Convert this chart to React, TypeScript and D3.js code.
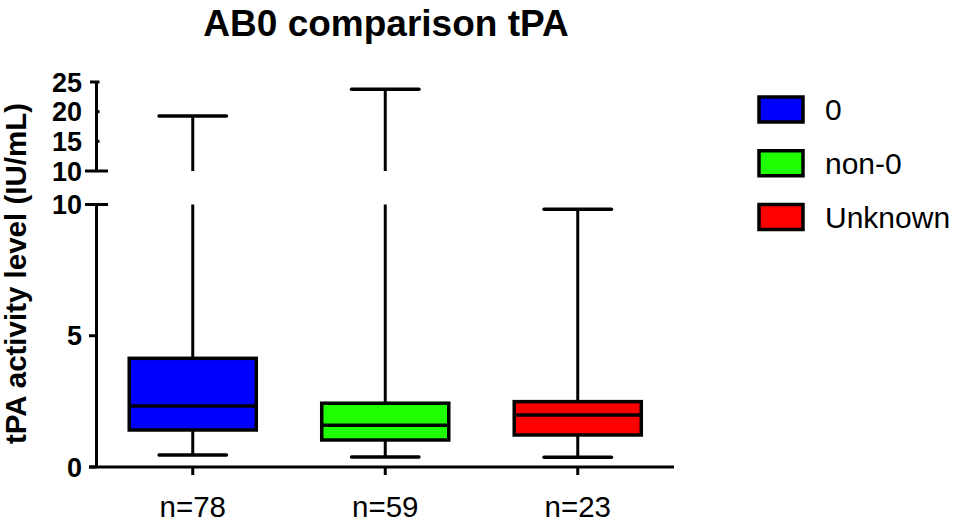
import { useEffect, useRef } from "react";
import * as d3 from "d3";

// groups and summary stats
const groups = ["0", "non-0", "Unknown"];
const counts = [78, 59, 23];
const mins = [0.46, 0.38, 0.37];
const q1s = [1.41, 1.03, 1.22];
const medians = [2.32, 1.59, 1.98];
const q3s = [4.14, 2.43, 2.49];
const maxs = [19.27, 23.78, 9.82];
const colors = ["#0000ff", "#1eff00", "#ff0000"];

const lowerTicks = [0, 5, 10];
const upperTicks = [10, 15, 20, 25];
const breakValue = 10;

const FONT = "'Liberation Sans', Arial, Helvetica, sans-serif";

export default function App() {
  const svgRef = useRef<SVGSVGElement>(null);

  useEffect(() => {
    if (!svgRef.current) return;
    const width = 954;
    const height = 525;
    const axisX = 96.5;
    const axisEnd = 674;
    const baseY = 467;

    const svg = d3.select(svgRef.current);
    svg.selectAll("*").remove();

    const x = d3.scalePoint<string>().domain(groups).range([axisX, axisEnd]).padding(0.5);
    const step = x.step();
    const boxW = step * 0.66;
    const capW = step * 0.35;

    // broken y axis: two segments
    const yLow = d3.scaleLinear().domain([0, 10]).range([baseY, 204.5]);
    const yHigh = d3.scaleLinear().domain([10, 25]).range([171, 82]);

    // title
    svg
      .append("text")
      .attr("x", 386)
      .attr("y", 36)
      .attr("text-anchor", "middle")
      .attr("font-family", FONT)
      .attr("font-weight", "bold")
      .attr("font-size", 37)
      .text("AB0 comparison tPA");

    // y label
    svg
      .append("text")
      .attr("transform", `translate(26,${(82 + baseY) / 2 - 1}) rotate(-90)`)
      .attr("text-anchor", "middle")
      .attr("font-family", FONT)
      .attr("font-weight", "bold")
      .attr("font-size", 29.5)
      .text("tPA activity level (IU/mL)");

    const axis = svg.append("g").attr("stroke", "#000").attr("stroke-width", 3);

    // lower segment
    axis.append("line").attr("x1", axisX).attr("x2", axisX).attr("y1", yLow(0)).attr("y2", yLow(10));
    // upper segment
    axis.append("line").attr("x1", axisX).attr("x2", axisX).attr("y1", yHigh(10)).attr("y2", yHigh(25));

    // x axis
    axis.append("line").attr("x1", 89).attr("x2", axisEnd).attr("y1", baseY).attr("y2", baseY);
    groups.forEach((g) => {
      axis
        .append("line")
        .attr("x1", x(g)!)
        .attr("x2", x(g)!)
        .attr("y1", baseY)
        .attr("y2", baseY + 8);
    });

    // ticks
    lowerTicks.forEach((t) => {
      const isBreak = t === breakValue;
      axis
        .append("line")
        .attr("x1", isBreak ? 85 : 89)
        .attr("x2", isBreak ? 108 : axisX)
        .attr("y1", yLow(t))
        .attr("y2", yLow(t));
    });
    upperTicks.forEach((t) => {
      const isBreak = t === breakValue;
      const isEnd = t === 25;
      axis
        .append("line")
        .attr("x1", isBreak ? 85 : isEnd ? 90 : 95)
        .attr("x2", isBreak ? 108 : 99.5)
        .attr("y1", yHigh(t))
        .attr("y2", yHigh(t));
    });

    const tickText = svg
      .append("g")
      .attr("font-family", FONT)
      .attr("font-weight", "bold")
      .attr("font-size", 27)
      .attr("text-anchor", "end");
    lowerTicks.forEach((t) => {
      tickText
        .append("text")
        .attr("x", 82)
        .attr("y", yLow(t))
        .attr("dy", "0.36em")
        .text(t);
    });
    upperTicks.forEach((t) => {
      tickText
        .append("text")
        .attr("x", 82)
        .attr("y", yHigh(t))
        .attr("dy", "0.36em")
        .text(t);
    });

    // category labels
    groups.forEach((g, i) => {
      svg
        .append("text")
        .attr("x", x(g)!)
        .attr("y", 517)
        .attr("text-anchor", "middle")
        .attr("font-family", FONT)
        .attr("font-size", 29.5)
        .text(`n=${counts[i]}`);
    });

    // boxes
    groups.forEach((g, i) => {
      const cx = x(g)!;
      const grp = svg.append("g").attr("stroke", "#000");

      // lower whisker
      grp
        .append("line")
        .attr("x1", cx)
        .attr("x2", cx)
        .attr("y1", yLow(mins[i]))
        .attr("y2", yLow(q1s[i]))
        .attr("stroke-width", 3);
      grp
        .append("line")
        .attr("x1", cx - capW / 2)
        .attr("x2", cx + capW / 2)
        .attr("y1", yLow(mins[i]))
        .attr("y2", yLow(mins[i]))
        .attr("stroke-width", 3.5)
        .attr("stroke-linecap", "round");

      // upper whisker, split across the break
      const top = maxs[i];
      const topY = top > breakValue ? yHigh(top) : yLow(top);
      grp
        .append("line")
        .attr("x1", cx)
        .attr("x2", cx)
        .attr("y1", yLow(q3s[i]))
        .attr("y2", top > breakValue ? yLow(breakValue) : yLow(top))
        .attr("stroke-width", 3);
      if (top > breakValue) {
        grp
          .append("line")
          .attr("x1", cx)
          .attr("x2", cx)
          .attr("y1", yHigh(breakValue))
          .attr("y2", yHigh(top))
          .attr("stroke-width", 3);
      }
      grp
        .append("line")
        .attr("x1", cx - capW / 2)
        .attr("x2", cx + capW / 2)
        .attr("y1", topY)
        .attr("y2", topY)
        .attr("stroke-width", 3.5)
        .attr("stroke-linecap", "round");

      // box
      grp
        .append("rect")
        .attr("x", cx - boxW / 2)
        .attr("y", yLow(q3s[i]))
        .attr("width", boxW)
        .attr("height", yLow(q1s[i]) - yLow(q3s[i]))
        .attr("fill", colors[i])
        .attr("stroke-width", 3.5);
      grp
        .append("line")
        .attr("x1", cx - boxW / 2)
        .attr("x2", cx + boxW / 2)
        .attr("y1", yLow(medians[i]))
        .attr("y2", yLow(medians[i]))
        .attr("stroke-width", 3.5);
    });

    // legend
    const legendY = d3.scalePoint<string>().domain(groups).range([109.5, 217]);
    groups.forEach((g, i) => {
      const cy = legendY(g)!;
      svg
        .append("rect")
        .attr("x", 759)
        .attr("y", cy - 12.5)
        .attr("width", 44)
        .attr("height", 25)
        .attr("fill", colors[i])
        .attr("stroke", "#000")
        .attr("stroke-width", 3.5);
      svg
        .append("text")
        .attr("x", 825)
        .attr("y", cy)
        .attr("dy", "0.36em")
        .attr("font-family", FONT)
        .attr("font-size", 30)
        .text(g);
    });

    svg.attr("width", width).attr("height", height);
  }, []);

  return (
    <svg
      ref={svgRef}
      width={954}
      height={525}
      style={{ position: "absolute", left: 0, top: 0, background: "#fff" }}
    />
  );
}
